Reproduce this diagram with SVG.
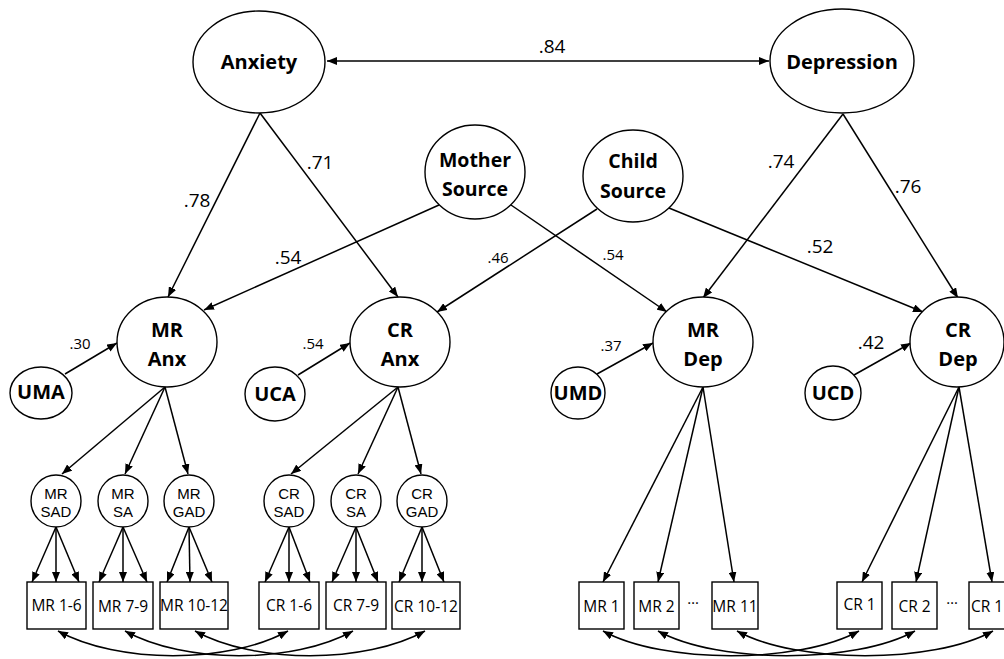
<svg xmlns="http://www.w3.org/2000/svg" width="1004" height="659" viewBox="0 0 1004 659">
<defs>
<marker id="ah" viewBox="0 0 10 8" refX="10" refY="4" markerWidth="10" markerHeight="8" markerUnits="userSpaceOnUse" orient="auto-start-reverse">
<path d="M0,0 L10,4 L0,8 z" fill="#000"/>
</marker>
<style>
.n ellipse, .n rect {fill:#fff; stroke:#000; stroke-width:1.4}
text {font-family:"Open Sans","Noto Sans",sans-serif; text-anchor:middle; fill:#000}
.b {font-weight:bold; font-size:20px}
.s {font-family:"Liberation Sans",Arial,sans-serif; font-size:15px}
.bx {font-size:15.5px}
.c {font-size:19px}
.cs {font-size:15px}
#conn line, #conn path {stroke:#000; stroke-width:1.5; fill:none; marker-end:url(#ah)}
#conn .d {marker-start:url(#ah)}
</style>
</defs>
<rect width="1004" height="659" fill="#fff"/>
<g id="conn">
<line class="d" x1="327" y1="61" x2="769" y2="61"/>
<line x1="260" y1="113" x2="168" y2="297"/>
<line x1="260" y1="113" x2="398" y2="297"/>
<line x1="843" y1="114" x2="703" y2="298"/>
<line x1="843" y1="114" x2="958" y2="298"/>
<line x1="439" y1="205" x2="204" y2="310"/>
<line x1="511" y1="205" x2="667" y2="312"/>
<line x1="597" y1="209" x2="437" y2="312"/>
<line x1="669" y1="208" x2="923" y2="312"/>
<line x1="65" y1="374" x2="117" y2="343"/>
<line x1="298" y1="375" x2="350" y2="343"/>
<line x1="597" y1="374" x2="653" y2="343"/>
<line x1="854" y1="375" x2="911" y2="343"/>
<line x1="165" y1="387" x2="62" y2="474"/>
<line x1="165" y1="387" x2="125" y2="474"/>
<line x1="165" y1="387" x2="188" y2="474"/>
<line x1="398" y1="387" x2="291" y2="474"/>
<line x1="398" y1="387" x2="358" y2="474"/>
<line x1="398" y1="387" x2="421" y2="474"/>
<line x1="56" y1="527" x2="32" y2="582"/>
<line x1="56" y1="527" x2="56" y2="582"/>
<line x1="56" y1="527" x2="79" y2="582"/>
<line x1="123" y1="527" x2="99" y2="582"/>
<line x1="123" y1="527" x2="123" y2="582"/>
<line x1="123" y1="527" x2="147" y2="582"/>
<line x1="189" y1="527" x2="167" y2="582"/>
<line x1="189" y1="527" x2="190" y2="582"/>
<line x1="189" y1="527" x2="212" y2="582"/>
<line x1="289" y1="527" x2="265" y2="582"/>
<line x1="289" y1="527" x2="289" y2="582"/>
<line x1="289" y1="527" x2="310" y2="582"/>
<line x1="356" y1="527" x2="332" y2="582"/>
<line x1="356" y1="527" x2="356" y2="582"/>
<line x1="356" y1="527" x2="378" y2="582"/>
<line x1="422" y1="527" x2="399" y2="582"/>
<line x1="422" y1="527" x2="422" y2="582"/>
<line x1="422" y1="527" x2="444" y2="582"/>
<line x1="703" y1="387" x2="603" y2="582"/>
<line x1="703" y1="387" x2="658" y2="582"/>
<line x1="703" y1="387" x2="734" y2="582"/>
<line x1="959" y1="387" x2="862" y2="582"/>
<line x1="959" y1="387" x2="916" y2="582"/>
<line x1="959" y1="387" x2="992" y2="582"/>
<path class="d" d="M58,631 C118,664 228,664 288,631"/>
<path class="d" d="M125,631 C185,664 293,664 353,631"/>
<path class="d" d="M195,631 C255,664 365,664 425,631"/>
<path class="d" d="M603,631 C663,664 799,664 859,631"/>
<path class="d" d="M658,631 C718,664 855,664 915,631"/>
<path class="d" d="M737,631 C797,664 933,664 993,631"/>
</g>
<g id="labels">
<text class="c" x="552" y="53">.84</text>
<text class="c" x="197" y="207">.78</text>
<text class="c" x="320" y="169">.71</text>
<text class="c" x="288" y="264">.54</text>
<text class="cs" x="498" y="263">.46</text>
<text class="cs" x="613" y="260">.54</text>
<text class="c" x="781" y="168">.74</text>
<text class="c" x="908" y="193">.76</text>
<text class="c" x="820" y="253">.52</text>
<text class="cs" x="80" y="349">.30</text>
<text class="cs" x="313" y="349">.54</text>
<text class="cs" x="611" y="351">.37</text>
<text class="c" x="871" y="349">.42</text>
<text class="cs" x="693" y="604">…</text>
<text class="cs" x="952" y="604">…</text>
</g>
<g id="anxiety" class="n"><ellipse cx="259" cy="62" rx="66" ry="51"/><text class="b" x="259" y="69">Anxiety</text></g>
<g id="depression" class="n"><ellipse cx="842" cy="61" rx="72" ry="52"/><text class="b" x="842" y="69">Depression</text></g>
<g id="mother" class="n"><ellipse cx="475" cy="172" rx="50" ry="47"/><text class="b" x="475" y="167" style="font-size:19.5px">Mother</text><text class="b" x="475" y="196" style="font-size:19.5px">Source</text></g>
<g id="child" class="n"><ellipse cx="633" cy="176" rx="50" ry="46"/><text class="b" x="633" y="168" style="font-size:19.5px">Child</text><text class="b" x="633" y="198" style="font-size:19.5px">Source</text></g>
<g id="mranx" class="n"><ellipse cx="167" cy="342" rx="50" ry="45"/><text class="b" x="167" y="337">MR</text><text class="b" x="167" y="366">Anx</text></g>
<g id="cranx" class="n"><ellipse cx="400" cy="342" rx="50" ry="45"/><text class="b" x="400" y="337">CR</text><text class="b" x="400" y="366">Anx</text></g>
<g id="mrdep" class="n"><ellipse cx="703" cy="342" rx="50" ry="45"/><text class="b" x="703" y="337">MR</text><text class="b" x="703" y="366">Dep</text></g>
<g id="crdep" class="n"><ellipse cx="957" cy="342" rx="47" ry="45"/><text class="b" x="958" y="337">CR</text><text class="b" x="958" y="366">Dep</text></g>
<g id="uma" class="n"><ellipse cx="41" cy="393" rx="31" ry="26"/><text class="b" x="41" y="399">UMA</text></g>
<g id="uca" class="n"><ellipse cx="275" cy="394" rx="30" ry="27"/><text class="b" x="275" y="401">UCA</text></g>
<g id="umd" class="n"><ellipse cx="578" cy="393" rx="27" ry="26"/><text class="b" x="578" y="400">UMD</text></g>
<g id="ucd" class="n"><ellipse cx="833" cy="393" rx="28" ry="27"/><text class="b" x="833" y="400">UCD</text></g>
<g id="mrsad" class="n"><ellipse cx="56" cy="501" rx="25" ry="26"/><text class="s" x="56" y="499">MR</text><text class="s" x="56" y="517">SAD</text></g>
<g id="mrsa" class="n"><ellipse cx="123" cy="501" rx="25" ry="26"/><text class="s" x="123" y="499">MR</text><text class="s" x="123" y="517">SA</text></g>
<g id="mrgad" class="n"><ellipse cx="189" cy="501" rx="25" ry="26"/><text class="s" x="189" y="499">MR</text><text class="s" x="189" y="517">GAD</text></g>
<g id="crsad" class="n"><ellipse cx="289" cy="501" rx="25" ry="26"/><text class="s" x="289" y="499">CR</text><text class="s" x="289" y="517">SAD</text></g>
<g id="crsa" class="n"><ellipse cx="356" cy="501" rx="25" ry="26"/><text class="s" x="356" y="499">CR</text><text class="s" x="356" y="517">SA</text></g>
<g id="crgad" class="n"><ellipse cx="422" cy="501" rx="25" ry="26"/><text class="s" x="422" y="499">CR</text><text class="s" x="422" y="517">GAD</text></g>
<g id="mr16" class="n"><rect x="27" y="582" width="59" height="47"/><text class="bx" x="56.5" y="611">MR 1-6</text></g>
<g id="mr79" class="n"><rect x="93" y="582" width="60" height="47"/><text class="bx" x="123" y="612">MR 7-9</text></g>
<g id="mr1012" class="n"><rect x="160" y="582" width="68" height="47"/><text class="bx" x="194" y="611">MR 10-12</text></g>
<g id="cr16" class="n"><rect x="259" y="582" width="60" height="47"/><text class="bx" x="289" y="611">CR 1-6</text></g>
<g id="cr79" class="n"><rect x="326" y="582" width="60" height="47"/><text class="bx" x="356" y="611">CR 7-9</text></g>
<g id="cr1012" class="n"><rect x="392" y="582" width="68" height="47"/><text class="bx" x="426" y="612">CR 10-12</text></g>
<g id="mr1" class="n"><rect x="579" y="582" width="45" height="47"/><text class="bx" x="601.5" y="612">MR 1</text></g>
<g id="mr2" class="n"><rect x="634" y="582" width="45" height="47"/><text class="bx" x="656.5" y="612">MR 2</text></g>
<g id="mr11" class="n"><rect x="712" y="582" width="46" height="47"/><text class="bx" x="735" y="612">MR 11</text></g>
<g id="cr1" class="n"><rect x="837" y="582" width="45" height="47"/><text class="bx" x="859.5" y="610">CR 1</text></g>
<g id="cr2" class="n"><rect x="892" y="582" width="45" height="47"/><text class="bx" x="914.5" y="612">CR 2</text></g>
<g id="cr11" class="n"><rect x="969" y="582" width="46" height="47"/><text class="bx" x="971" y="612" style="text-anchor:start">CR 1</text></g>
</svg>
